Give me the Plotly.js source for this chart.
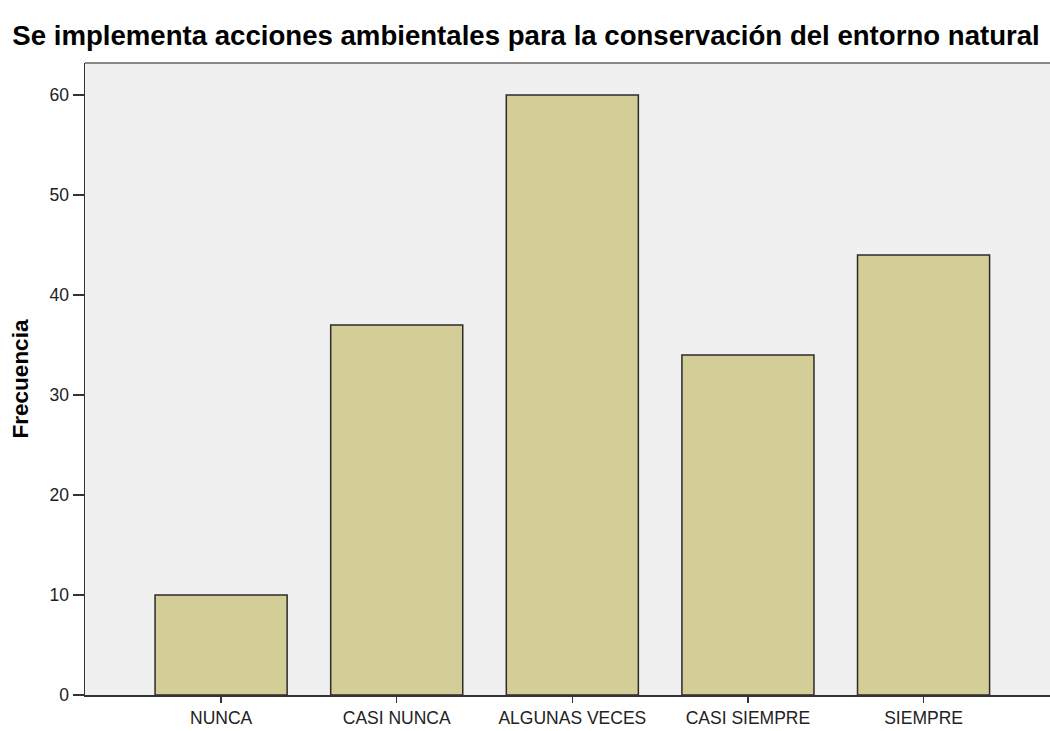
<!DOCTYPE html>
<html><head><meta charset="utf-8">
<script src="https://cdn.plot.ly/plotly-3.0.1.min.js"></script>
<style>html,body{margin:0;padding:0;background:#fff}</style>
</head><body>
<div id="chart" style="width:1050px;height:731px"></div>
<script>
var categories = ["NUNCA", "CASI NUNCA", "ALGUNAS VECES", "CASI SIEMPRE", "SIEMPRE"];
var frecuencia = [10, 37, 60, 34, 44];
var yTicks = [0, 10, 20, 30, 40, 50, 60];

var trace = {
  type: 'bar',
  x: categories,
  y: frecuencia,
  marker: {color: '#d3ce97', line: {color: '#2b2b2b', width: 1.5}},
  hoverinfo: 'x+y'
};
var layout = {
  width: 1050, height: 731,
  margin: {l: 85, r: 0, t: 63, b: 36},
  paper_bgcolor: '#ffffff',
  plot_bgcolor: '#f0f0f0',
  bargap: 0.248,
  showlegend: false,
  font: {family: 'Liberation Sans, Arial, sans-serif', color: '#222', size: 17},
  title: {text: 'Se implementa acciones ambientales para la conservación del entorno natural',
          font: {family: 'Liberation Sans, Arial, sans-serif', size: 27.6, color: '#000', weight: 'bold'},
          x: 0.501, xanchor: 'center', yref: 'container', y: 0.951, yanchor: 'middle'},
  xaxis: {type: 'category', range: [-0.775, 4.72], showgrid: false, zeroline: false,
          showline: true, linecolor: '#333', linewidth: 1.5,
          ticks: 'outside', ticklen: 6, tickwidth: 1.5, tickcolor: '#333',
          tickfont: {size: 17.5, color: '#222'}},
  yaxis: {range: [0, 63.2], tickvals: yTicks, showgrid: false, zeroline: false,
          showline: true, linecolor: '#333', linewidth: 1.5,
          ticks: 'outside', ticklen: 11, tickwidth: 1.5, tickcolor: '#333',
          tickfont: {size: 17.5, color: '#222'},
          title: {text: 'Frecuencia', standoff: 14,
                  font: {family: 'Liberation Sans, Arial, sans-serif', size: 22.5, color: '#000', weight: 'bold'}}},
  shapes: [{type: 'line', xref: 'paper', yref: 'paper', x0: 0, x1: 1, y0: 1, y1: 1,
            line: {color: '#888', width: 2}}]
};
Plotly.newPlot('chart', [trace], layout, {displayModeBar: false, staticPlot: true});
</script>
</body></html>
